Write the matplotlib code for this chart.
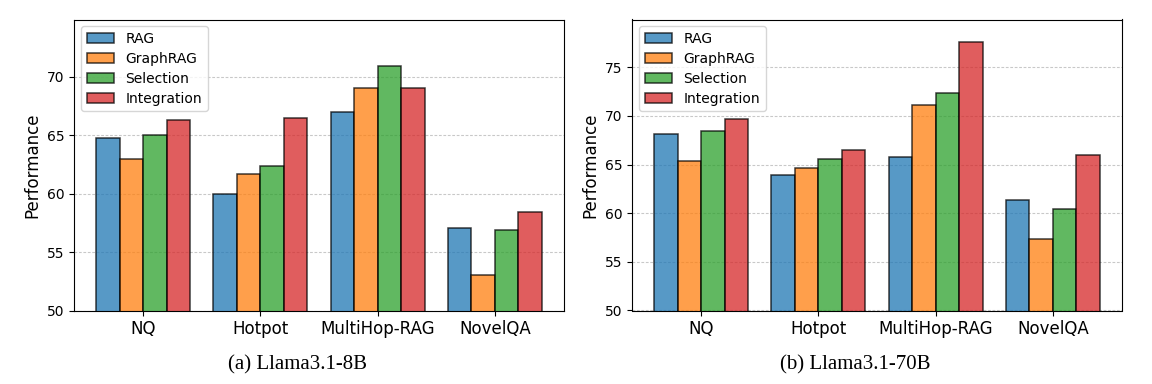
import numpy as np
import matplotlib.pyplot as plt

# Data
datasets = ["NQ", "Hotpot", "MultiHop-RAG", "NovelQA"]
methods = ["RAG", "GraphRAG", "Selection", "Integration"]
colors = ["tab:blue", "tab:orange", "tab:green", "tab:red"]

llama8b = {
    "RAG": [64.8, 60.0, 67.0, 57.1],
    "GraphRAG": [63.0, 61.7, 69.0, 53.0],
    "Selection": [65.0, 62.4, 70.9, 56.9],
    "Integration": [66.3, 66.5, 69.0, 58.4],
}
llama70b = {
    "RAG": [68.1, 63.9, 65.8, 61.4],
    "GraphRAG": [65.4, 64.6, 71.1, 57.3],
    "Selection": [68.4, 65.6, 72.3, 60.4],
    "Integration": [69.7, 66.5, 77.6, 66.0],
}
captions = ["(a) Llama3.1-8B", "(b) Llama3.1-70B"]
ylims = [(50, 74.9), (50, 79.9)]


def draw_panel(ax, values, ylim):
    x = np.arange(len(datasets))
    width = 0.2
    for i, (m, c) in enumerate(zip(methods, colors)):
        ax.bar(x + (i - 1.5) * width, values[m], width, label=m,
               color=c, alpha=0.75, edgecolor="black", linewidth=1.1)
    ax.set_xticks(x)
    ax.set_xticklabels(datasets, fontsize=12)
    ax.tick_params(axis="y", labelsize=10)
    ax.set_ylim(*ylim)
    ax.set_ylabel("Performance", fontsize=12)
    ax.grid(axis="y", linestyle=(0, (2.5, 1.5)), color="#bbbbbb",
            linewidth=0.8, alpha=0.8)
    ax.set_axisbelow(True)
    ax.legend(loc="upper left", fontsize=10, labelspacing=0.42)


fig = plt.figure(figsize=(11.52, 3.84), dpi=100)
ax1 = fig.add_axes([74 / 1152, 1 - 310.5 / 384, 490 / 1152, 291 / 384])
ax2 = fig.add_axes([632 / 1152, 1 - 310.5 / 384, 490 / 1152, 291 / 384])

draw_panel(ax1, llama8b, ylims[0])
draw_panel(ax2, llama70b, ylims[1])

fig.text(297 / 1152, 1 - 369 / 384, captions[0], ha="center", va="baseline",
         fontsize=15, family="Liberation Serif")
fig.text(855 / 1152, 1 - 369 / 384, captions[1], ha="center", va="baseline",
         fontsize=15, family="Liberation Serif")

fig.savefig("out.png", dpi=100)
